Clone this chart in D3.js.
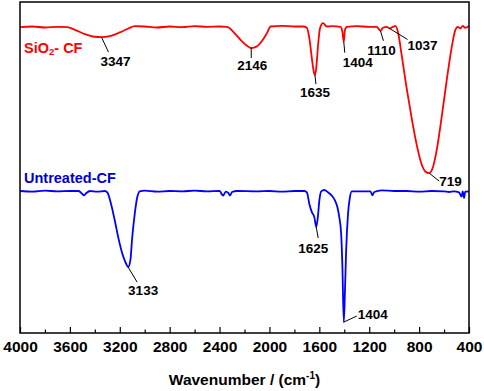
<!DOCTYPE html>
<html>
<head>
<meta charset="utf-8">
<script src="https://cdn.jsdelivr.net/npm/d3@7"></script>
<style>
  body { margin: 0; background: #fff; }
  svg { display: block; font-family: Arial, "Liberation Sans", sans-serif; font-weight: bold; }
</style>
</head>
<body>
<div id="chart"></div>
<script>
// FTIR spectra: [wavenumber, transmittance (a.u.)]
var sio2Spectrum = [
  [4000, 92.4], [3900, 92.6], [3800, 92.3], [3700, 92.5], [3620, 92.4], [3560, 91.6],
  [3480, 90.3], [3400, 89.5], [3347, 89.4], [3280, 89.7], [3200, 90.8], [3130, 92.0],
  [3080, 92.7], [3000, 92.6], [2900, 92.3], [2800, 92.6], [2700, 92.4], [2600, 92.7],
  [2500, 92.5], [2400, 92.6], [2340, 92.5], [2290, 91.0], [2230, 88.5], [2180, 86.8],
  [2146, 86.1], [2100, 86.6], [2060, 88.2], [2020, 90.6], [1990, 92.6], [1900, 92.8],
  [1800, 92.6], [1730, 92.6], [1700, 92.2], [1680, 89.0], [1660, 83.0], [1645, 79.0],
  [1635, 77.9], [1625, 80.0], [1610, 87.0], [1595, 92.0], [1570, 93.6], [1540, 92.6],
  [1500, 92.7], [1430, 92.5], [1415, 91.0], [1404, 88.0], [1395, 91.5], [1380, 92.5],
  [1300, 92.7], [1200, 92.5], [1140, 92.5], [1110, 91.3], [1090, 92.2], [1060, 92.5],
  [1037, 92.0], [1010, 92.5], [990, 92.8], [970, 91.0], [940, 84.0], [900, 74.0],
  [860, 65.0], [820, 57.0], [780, 51.0], [750, 48.8], [719, 48.3], [690, 50.0],
  [660, 55.0], [620, 65.0], [580, 76.0], [540, 86.0], [510, 91.5], [490, 92.5],
  [470, 92.0], [450, 92.8], [430, 92.2], [400, 92.8]
];
var untreatedSpectrum = [
  [4000, 42.9], [3900, 42.7], [3800, 43.0], [3700, 42.8], [3600, 42.9], [3530, 42.9],
  [3500, 42.0], [3487, 41.6], [3470, 42.2], [3440, 42.9], [3380, 42.7], [3320, 42.9],
  [3300, 42.5], [3270, 39.0], [3240, 34.0], [3210, 28.5], [3180, 24.0], [3150, 21.0],
  [3133, 19.9], [3115, 22.0], [3100, 29.0], [3080, 36.0], [3060, 41.0], [3040, 42.8],
  [3000, 43.0], [2900, 42.7], [2800, 42.9], [2700, 42.8], [2600, 43.0], [2500, 42.8],
  [2400, 42.9], [2380, 41.8], [2372, 41.5], [2350, 42.7], [2330, 42.3], [2316, 41.5],
  [2300, 42.6], [2260, 42.9], [2100, 42.8], [2000, 42.9], [1900, 42.7], [1800, 42.9],
  [1720, 42.9], [1700, 42.5], [1680, 39.0], [1660, 36.5], [1640, 35.0], [1625, 32.0],
  [1612, 35.0], [1600, 40.0], [1585, 42.8], [1560, 43.2], [1530, 42.5], [1500, 41.5],
  [1474, 40.0], [1455, 38.0], [1440, 35.0], [1425, 30.0], [1415, 20.0], [1404, 3.3],
  [1395, 12.0], [1385, 25.0], [1370, 36.0], [1355, 41.0], [1340, 42.8], [1250, 42.8],
  [1190, 42.8], [1175, 41.6], [1160, 42.6], [1100, 43.1], [1000, 42.9], [900, 42.9],
  [800, 42.7], [700, 42.9], [600, 42.8], [560, 42.6], [520, 42.8], [480, 42.5],
  [460, 41.2], [450, 42.8], [440, 40.8], [430, 42.7], [400, 42.8]
];
var sio2Peaks = [3347, 2146, 1635, 1404, 1110, 1037, 719];
var untreatedPeaks = [3133, 1625, 1404];
var xTicks = [4000, 3600, 3200, 2800, 2400, 2000, 1600, 1200, 800, 400];

var width = 484, height = 391,
    margin = { top: 2, right: 15, bottom: 58, left: 20 };

// leader-line end (lx, ly) and label anchor (tx, ty), relative to the peak point
var sio2Layout = {
  3347: { lx: 7, ly: 15, tx: 14, ty: 29, anchor: "middle" },
  2146: { lx: 0, ly: 10, tx: 1, ty: 22, anchor: "middle" },
  1635: { lx: 1, ly: 9, tx: 0, ty: 22, anchor: "middle" },
  1404: { lx: 1, ly: 11, tx: 14, ty: 25, anchor: "middle" },
  1110: { lx: 3, ly: 10, tx: 1, ty: 24, anchor: "middle" },
  1037: { lx: 18, ly: 11, tx: 33, ty: 22, anchor: "middle" },
  719: { lx: 10, ly: 8, tx: 10, ty: 13, anchor: "start" }
};
var untreatedLayout = {
  3133: { lx: 9, ly: 15, tx: 15, ty: 28, anchor: "middle" },
  1625: { lx: 2, ly: 11, tx: -3, ty: 26, anchor: "middle" },
  1404: { lx: 13, ly: -6, tx: 14, ty: -3, anchor: "start" }
};

var x = d3.scaleLinear().domain([4000, 400]).range([margin.left, width - margin.right]);
var y = d3.scaleLinear().domain([0, 100]).range([height - margin.bottom, margin.top]);

var svg = d3.select("#chart").append("svg")
    .attr("width", width)
    .attr("height", height);

var line = d3.line()
    .x(d => x(d[0]))
    .y(d => y(d[1]))
    .curve(d3.curveMonotoneX);

svg.append("path")
    .datum(sio2Spectrum)
    .attr("fill", "none")
    .attr("stroke", "#ff0000")
    .attr("stroke-width", 1.8)
    .attr("d", line);

svg.append("path")
    .datum(untreatedSpectrum)
    .attr("fill", "none")
    .attr("stroke", "#0000ff")
    .attr("stroke-width", 1.8)
    .attr("d", line);

function annotate(peaks, spectrum, layout) {
  var g = svg.append("g");
  peaks.forEach(function(p) {
    var pt = spectrum.find(d => d[0] === p);
    var px = x(pt[0]), py = y(pt[1]), o = layout[p];
    g.append("line")
        .attr("x1", px).attr("y1", py)
        .attr("x2", px + o.lx).attr("y2", py + o.ly)
        .attr("stroke", "#000")
        .attr("stroke-width", 1);
    g.append("text")
        .attr("x", px + o.tx)
        .attr("y", py + o.ty)
        .attr("text-anchor", o.anchor)
        .attr("font-size", 13.5)
        .attr("fill", "#000")
        .text(p);
  });
}
annotate(sio2Peaks, sio2Spectrum, sio2Layout);
annotate(untreatedPeaks, untreatedSpectrum, untreatedLayout);

// series labels
var sioLabel = svg.append("text")
    .attr("x", 24).attr("y", 53)
    .attr("font-size", 14.5)
    .attr("fill", "#ff0000");
sioLabel.append("tspan").text("SiO");
sioLabel.append("tspan").attr("font-size", 9.5).attr("dy", 2).text("2");
sioLabel.append("tspan").attr("dy", -2).text("- CF");

svg.append("text")
    .attr("x", 24).attr("y", 183)
    .attr("font-size", 14.5)
    .attr("fill", "#0000cc")
    .text("Untreated-CF");

// x axis: ticks point inward
var xAxis = d3.axisBottom(x)
    .tickValues(d3.range(4000, 399, -200))
    .tickSize(-6)
    .tickPadding(8)
    .tickFormat(d => xTicks.includes(d) ? d : "");

var axisG = svg.append("g")
    .attr("transform", `translate(0,${height - margin.bottom})`)
    .call(xAxis);
axisG.select(".domain").remove();
axisG.selectAll(".tick line")
    .attr("stroke", "#000")
    .attr("stroke-width", 1.2)
    .attr("y2", d => xTicks.includes(d) ? -6 : -3.5);
axisG.selectAll(".tick text")
    .attr("font-family", "Arial, 'Liberation Sans', sans-serif")
    .attr("font-weight", "bold")
    .attr("font-size", 15.5)
    .attr("fill", "#000");

// frame
svg.append("rect")
    .attr("x", margin.left)
    .attr("y", margin.top)
    .attr("width", width - margin.left - margin.right)
    .attr("height", height - margin.top - margin.bottom)
    .attr("fill", "none")
    .attr("stroke", "#000")
    .attr("stroke-width", 1.5);

// axis title
var title = svg.append("text")
    .attr("x", (margin.left + width - margin.right) / 2)
    .attr("y", 385)
    .attr("text-anchor", "middle")
    .attr("font-size", 15.5)
    .attr("fill", "#000");
title.append("tspan").text("Wavenumber / (cm");
title.append("tspan").attr("font-size", 10).attr("dy", -6).text("-1");
title.append("tspan").attr("dy", 6).text(")");
</script>
</body>
</html>
